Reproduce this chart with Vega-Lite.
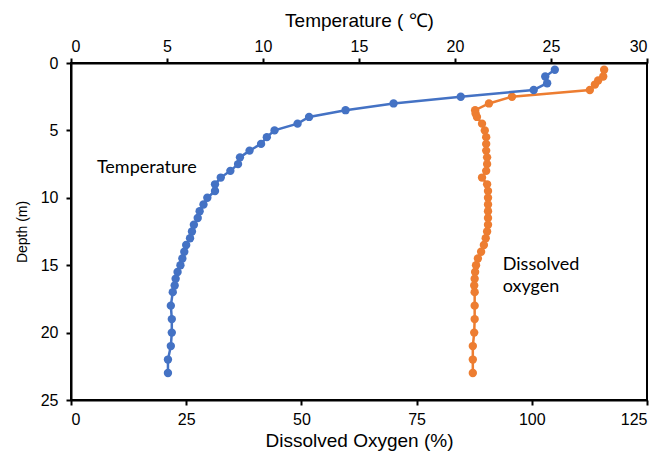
{
  "$schema": "https://vega.github.io/schema/vega-lite/v6.json",
  "width": 576,
  "height": 337,
  "autosize": {"type": "none"},
  "padding": {"left": 71, "top": 63, "right": 16, "bottom": 51},
  "background": "white",
  "config": {
    "view": {"stroke": "black", "strokeWidth": 2},
    "font": "Liberation Sans",
    "axis": {
      "grid": false,
      "domainColor": "black",
      "domainWidth": 2,
      "tickColor": "black",
      "tickWidth": 2,
      "tickSize": 5,
      "labelFont": "Liberation Sans",
      "labelFontSize": 16,
      "labelColor": "black",
      "titleFont": "Liberation Sans",
      "titleFontSize": 19,
      "titleFontWeight": "normal",
      "titleColor": "black"
    }
  },
  "datasets": {
    "temperature": [
      {"depth": 0.5, "temp": 25.2},
      {"depth": 1.0, "temp": 24.7},
      {"depth": 1.5, "temp": 24.8},
      {"depth": 2.0, "temp": 24.1},
      {"depth": 2.5, "temp": 20.3},
      {"depth": 3.0, "temp": 16.8},
      {"depth": 3.5, "temp": 14.3},
      {"depth": 4.0, "temp": 12.4},
      {"depth": 4.5, "temp": 11.8},
      {"depth": 5.0, "temp": 10.6},
      {"depth": 5.5, "temp": 10.2},
      {"depth": 6.0, "temp": 9.9},
      {"depth": 6.5, "temp": 9.3},
      {"depth": 7.0, "temp": 8.8},
      {"depth": 7.5, "temp": 8.7},
      {"depth": 8.0, "temp": 8.3},
      {"depth": 8.5, "temp": 7.8},
      {"depth": 9.0, "temp": 7.5},
      {"depth": 9.5, "temp": 7.5},
      {"depth": 10.0, "temp": 7.1},
      {"depth": 10.5, "temp": 6.9},
      {"depth": 11.0, "temp": 6.7},
      {"depth": 11.5, "temp": 6.6},
      {"depth": 12.0, "temp": 6.4},
      {"depth": 12.5, "temp": 6.3},
      {"depth": 13.0, "temp": 6.2},
      {"depth": 13.5, "temp": 6.0},
      {"depth": 14.0, "temp": 5.9},
      {"depth": 14.5, "temp": 5.8},
      {"depth": 15.0, "temp": 5.7},
      {"depth": 15.5, "temp": 5.55},
      {"depth": 16.0, "temp": 5.45},
      {"depth": 16.5, "temp": 5.4},
      {"depth": 17.0, "temp": 5.3},
      {"depth": 18.0, "temp": 5.2},
      {"depth": 19.0, "temp": 5.25},
      {"depth": 20.0, "temp": 5.25},
      {"depth": 21.0, "temp": 5.2},
      {"depth": 22.0, "temp": 5.05},
      {"depth": 23.0, "temp": 5.05}
    ],
    "oxygen": [
      {"depth": 0.5, "do": 115.7},
      {"depth": 1.0, "do": 115.5},
      {"depth": 1.3, "do": 114.4},
      {"depth": 1.6, "do": 113.7},
      {"depth": 2.0, "do": 112.6},
      {"depth": 2.5, "do": 95.7},
      {"depth": 3.0, "do": 90.7},
      {"depth": 3.5, "do": 87.7},
      {"depth": 3.75, "do": 87.8},
      {"depth": 4.0, "do": 88.1},
      {"depth": 4.5, "do": 89.2},
      {"depth": 5.0, "do": 89.8},
      {"depth": 5.5, "do": 90.1},
      {"depth": 6.0, "do": 90.1},
      {"depth": 6.5, "do": 90.1},
      {"depth": 7.0, "do": 90.3},
      {"depth": 7.5, "do": 90.3},
      {"depth": 8.0, "do": 90.1},
      {"depth": 8.5, "do": 89.2},
      {"depth": 9.0, "do": 90.3},
      {"depth": 9.5, "do": 90.5},
      {"depth": 10.0, "do": 90.5},
      {"depth": 10.5, "do": 90.5},
      {"depth": 11.0, "do": 90.5},
      {"depth": 11.5, "do": 90.5},
      {"depth": 12.0, "do": 90.5},
      {"depth": 12.5, "do": 90.3},
      {"depth": 13.0, "do": 90.0},
      {"depth": 13.5, "do": 89.6},
      {"depth": 14.0, "do": 89.0},
      {"depth": 14.5, "do": 88.3},
      {"depth": 15.0, "do": 87.9},
      {"depth": 15.5, "do": 87.7},
      {"depth": 16.0, "do": 87.6},
      {"depth": 16.5, "do": 87.5},
      {"depth": 17.0, "do": 87.6},
      {"depth": 18.0, "do": 87.6},
      {"depth": 19.0, "do": 87.6},
      {"depth": 20.0, "do": 87.5},
      {"depth": 21.0, "do": 87.2},
      {"depth": 22.0, "do": 87.2},
      {"depth": 23.0, "do": 87.2}
    ],
    "labels_temp": [
      {"temp": 1.35, "depth": 7.8, "label": "Temperature"}
    ],
    "labels_do": [
      {"do": 93.7, "depth": 15.0, "label": "Dissolved"},
      {"do": 93.7, "depth": 16.6, "label": "oxygen"}
    ]
  },
  "encoding": {
    "y": {
      "field": "depth",
      "type": "quantitative",
      "scale": {"domain": [0, 25], "reverse": true, "nice": false, "zero": false},
      "axis": {"values": [0, 5, 10, 15, 20, 25], "title": "Depth (m)", "titleFontSize": 14, "titlePadding": 11, "labelPadding": 8}
    }
  },
  "layer": [
    {
      "data": {"name": "oxygen"},
      "mark": {"type": "line", "color": "#ED7D31", "strokeWidth": 2.5, "point": {"filled": true, "size": 70, "color": "#ED7D31", "opacity": 1}},
      "encoding": {
        "x": {
          "field": "do",
          "type": "quantitative",
          "scale": {"domain": [0, 125], "nice": false, "zero": false},
          "axis": {"orient": "bottom", "values": [0, 25, 50, 75, 100, 125], "title": "Dissolved Oxygen (%)", "labelPadding": 6, "titlePadding": 4}
        },
        "order": {"field": "depth", "type": "quantitative"}
      }
    },
    {
      "data": {"name": "temperature"},
      "mark": {"type": "line", "color": "#4472C4", "strokeWidth": 2.5, "point": {"filled": true, "size": 70, "color": "#4472C4", "opacity": 1}},
      "encoding": {
        "x": {
          "field": "temp",
          "type": "quantitative",
          "scale": {"domain": [0, 30], "nice": false, "zero": false},
          "axis": {"orient": "top", "values": [0, 5, 10, 15, 20, 25, 30], "title": "Temperature ( ℃)", "labelPadding": 4, "titlePadding": 8}
        },
        "order": {"field": "depth", "type": "quantitative"}
      }
    },
    {
      "data": {"name": "labels_temp"},
      "mark": {"type": "text", "align": "left", "baseline": "middle", "font": "Lato", "fontSize": 18, "color": "black"},
      "encoding": {
        "x": {"field": "temp", "type": "quantitative", "scale": {"domain": [0, 30], "nice": false, "zero": false}, "axis": null},
        "text": {"field": "label"}
      }
    },
    {
      "data": {"name": "labels_do"},
      "mark": {"type": "text", "align": "left", "baseline": "middle", "font": "Lato", "fontSize": 18, "color": "black"},
      "encoding": {
        "x": {"field": "do", "type": "quantitative", "scale": {"domain": [0, 125], "nice": false, "zero": false}, "axis": null},
        "text": {"field": "label"}
      }
    }
  ],
  "resolve": {"scale": {"x": "independent"}, "axis": {"x": "independent"}}
}
